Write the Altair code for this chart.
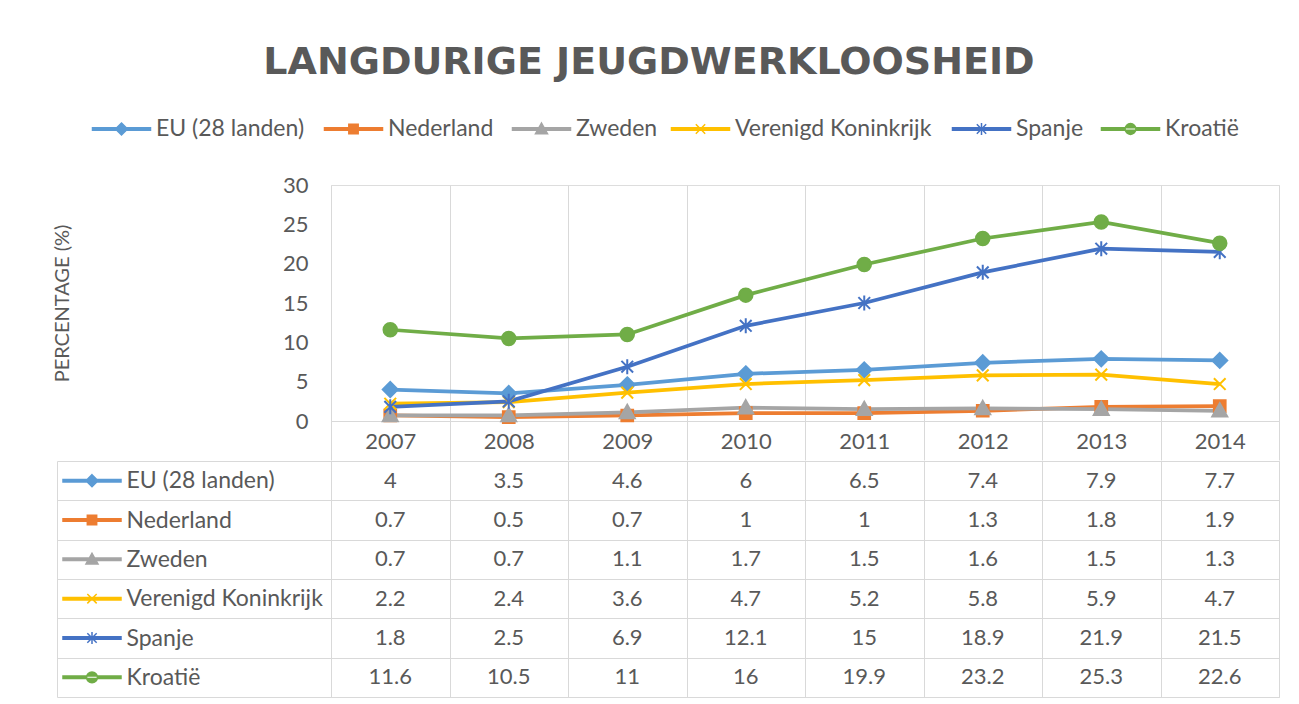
import altair as alt
import pandas as pd

# ---------------- data ----------------
years = ["2007", "2008", "2009", "2010", "2011", "2012", "2013", "2014"]
series = ["EU (28 landen)", "Nederland", "Zweden", "Verenigd Koninkrijk", "Spanje", "Kroatië"]
eu = [4, 3.5, 4.6, 6, 6.5, 7.4, 7.9, 7.7]
nederland = [0.7, 0.5, 0.7, 1, 1, 1.3, 1.8, 1.9]
zweden = [0.7, 0.7, 1.1, 1.7, 1.5, 1.6, 1.5, 1.3]
vk = [2.2, 2.4, 3.6, 4.7, 5.2, 5.8, 5.9, 4.7]
spanje = [1.8, 2.5, 6.9, 12.1, 15, 18.9, 21.9, 21.5]
kroatie = [11.6, 10.5, 11, 16, 19.9, 23.2, 25.3, 22.6]
y_ticks = [0, 5, 10, 15, 20, 25, 30]

colors = ["#5B9BD5", "#ED7D31", "#A5A5A5", "#FFC000", "#4472C4", "#70AD47"]
TXT = "#595959"
GRID = "#D9D9D9"
FONT = "Lato"

values = [eu, nederland, zweden, vk, spanje, kroatie]
rows = []
for s, vals in zip(series, values):
    for yr, v in zip(years, vals):
        rows.append({"series": s, "year": yr, "value": v, "label": f"{v:g}"})
df = pd.DataFrame(rows)
key_df = pd.DataFrame({"series": series})

# ---------------- styles / layout (pixels) ----------------
W = 948
H_TOP = 236
H_TAB = 236
LABEL_COL = 274
LEGEND_Y = -56                                   # legend row, above the plot area
LEGEND_KEY_X = [-209.5, 22.5, 210.5, 369.5, 650.5, 799.5]
LEGEND_TXT_X = [-175, 57, 245, 404, 685, 834]


def marker_paths(r):
    c = round(r * 0.78, 3)
    q = round(r * 0.9, 3)
    return [
        f"M0,{-r}L{r},0L0,{r}L{-r},0Z",
        f"M{-c},{-c}L{c},{-c}L{c},{c}L{-c},{c}Z",
        f"M0,{-r}L{r},{c}L{-r},{c}Z",
        f"M{-c},{-c}L{c},{c}M{-c},{c}L{c},{-c}",
        f"M{-c},{-c}L{c},{c}M{-c},{c}L{c},{-c}M0,{-r}L0,{r}",
        f"M{-q},0A{q},{q},0,1,0,{q},0A{q},{q},0,1,0,{-q},0Z",
    ]


def key_paths(r, half, t):
    # thin filled bar (the line part of the key) followed by the marker
    bar = f"M{-half},{-t}L{half},{-t}L{half},{t}L{-half},{t}Z"
    return [bar + p for p in marker_paths(r)]


chart_markers = marker_paths(1.0)
keys = key_paths(1.2, 5.8, 0.25)

color_scale = alt.Scale(domain=series, range=colors)
key_scale = alt.Scale(domain=series, range=keys)

x_top = alt.X(
    "year:N", scale=alt.Scale(domain=years, paddingInner=0, paddingOuter=0),
    axis=alt.Axis(title=None, tickBand="extent", tickSize=39, tickColor=GRID,
                  grid=True, gridColor=GRID, domainColor=GRID, labelAngle=0,
                  labelFont=FONT, labelFontSize=22, labelColor=TXT,
                  labelBaseline="middle", labelPadding=-19),
)
y_top = alt.Y(
    "value:Q", scale=alt.Scale(domain=[0, 30], nice=False, zero=True),
    axis=alt.Axis(values=y_ticks, grid=False, ticks=False, domain=False,
                  labelFont=FONT, labelFontSize=22, labelColor=TXT, labelPadding=23,
                  title="PERCENTAGE (%)", titleFont=FONT, titleFontSize=20,
                  titleFontWeight="normal", titleColor=TXT, titlePadding=210),
)

base = alt.Chart(df)
lines = base.mark_line(strokeWidth=3.75).encode(
    x=x_top, y=y_top,
    color=alt.Color("series:N", scale=color_scale, legend=None),
)

point_layers = []
for s, col, shp in zip(series, colors, chart_markers):
    point_layers.append(
        base.transform_filter(alt.datum.series == s)
        .mark_point(shape=shp, filled=True, fill=col, stroke=col, size=225,
                    strokeWidth=2, opacity=1)
        .encode(x=x_top, y=y_top)
    )

# legend row (keys + names), drawn like Excel's legend above the plot
legend_layers = []
for s, col, kp, kx, tx in zip(series, colors, keys, LEGEND_KEY_X, LEGEND_TXT_X):
    one = alt.Chart(pd.DataFrame({"series": [s]}))
    legend_layers.append(
        one.mark_point(shape=kp, filled=True, fill=col, stroke=col, size=100,
                       strokeWidth=1.5, opacity=1)
        .encode(x=alt.value(kx), y=alt.value(LEGEND_Y))
    )
    legend_layers.append(
        one.mark_text(align="left", baseline="middle", font=FONT, fontSize=23, color=TXT)
        .encode(x=alt.value(tx), y=alt.value(LEGEND_Y), text="series:N")
    )

top = alt.layer(lines, *point_layers, *legend_layers).properties(width=W, height=H_TOP)

# ---------------- data table ----------------
x_tab = alt.X(
    "year:N", scale=alt.Scale(domain=years, paddingInner=0, paddingOuter=0),
    axis=alt.Axis(title=None, labels=False, ticks=False, domain=False, grid=True,
                  gridColor=GRID, tickBand="extent"),
)
y_tab = alt.Y(
    "series:N", scale=alt.Scale(domain=series, paddingInner=0, paddingOuter=0),
    axis=alt.Axis(title=None, orient="right", offset=-(W + LABEL_COL),
                  tickSize=LABEL_COL, tickBand="extent", ticks=True, tickColor=GRID,
                  domain=True, domainColor=GRID, grid=True, gridColor=GRID,
                  labelAlign="left", labelBaseline="middle", labelPadding=-205,
                  labelFont=FONT, labelFontSize=23, labelColor=TXT, labelLimit=400),
)
tab_text = alt.Chart(df).mark_text(font=FONT, fontSize=22, color=TXT).encode(
    x=x_tab, y=y_tab, text="label:N",
)
tab_keys = alt.Chart(key_df).mark_point(filled=True, size=100, strokeWidth=1.5, opacity=1).encode(
    x=alt.value(-239),
    y=alt.Y("series:N", scale=alt.Scale(domain=series, paddingInner=0, paddingOuter=0)),
    fill=alt.Fill("series:N", scale=color_scale, legend=None),
    stroke=alt.Stroke("series:N", scale=color_scale, legend=None),
    shape=alt.Shape("series:N", scale=key_scale, legend=None),
)
table = alt.layer(tab_text, tab_keys).properties(width=W, height=H_TAB)

chart = alt.vconcat(top, table, spacing=-12).resolve_scale(
    fill="independent", stroke="independent", shape="independent", color="independent"
).properties(
    title=alt.Title("LANGDURIGE JEUGDWERKLOOSHEID", font="DejaVu Sans", fontSize=38,
                    fontWeight="bold", color=TXT, anchor="middle", dx=-17, offset=36),
    padding={"left": 43, "top": 35, "right": 5, "bottom": 0},
).configure_view(stroke=None).configure(font=FONT)

chart.save("out.html", embed_options={"renderer": "svg", "actions": False})
